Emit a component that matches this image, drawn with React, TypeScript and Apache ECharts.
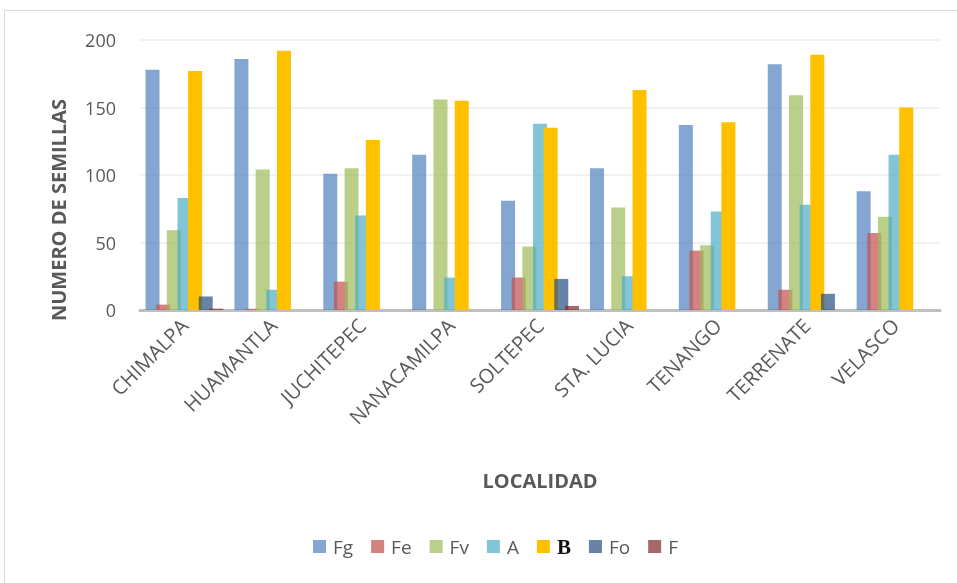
import React, { useEffect, useRef } from "react";
import * as echarts from "echarts";

const categories = ["CHIMALPA", "HUAMANTLA", "JUCHITEPEC", "NANACAMILPA", "SOLTEPEC", "STA. LUCIA", "TENANGO", "TERRENATE", "VELASCO"];
const seriesNames = ["Fg", "Fe", "Fv", "A", "B", "Fo", "F"];
const Fg = [178, 186, 101, 115, 81, 105, 137, 182, 88];
const Fe = [4, 1, 21, 0, 24, 0, 44, 15, 57];
const Fv = [59, 104, 105, 156, 47, 76, 48, 159, 69];
const A = [83, 15, 70, 24, 138, 25, 73, 78, 115];
const B = [177, 192, 126, 155, 135, 163, 139, 189, 150];
const Fo = [10, 0, 0, 0, 23, 0, 0, 12, 0];
const F = [1, 0, 0, 0, 3, 0, 0, 0, 0];
const seriesData = [Fg, Fe, Fv, A, B, Fo, F];
const seriesColors = [
  "rgba(79,129,189,0.7)",
  "rgba(192,80,77,0.7)",
  "rgba(155,187,89,0.7)",
  "rgba(75,172,198,0.7)",
  "#FFC000",
  "rgba(31,73,125,0.68)",
  "rgba(128,40,40,0.7)",
];
const yTicks = [0, 50, 100, 150, 200];

export default function App() {
  const ref = useRef<HTMLDivElement>(null);
  useEffect(() => {
    if (!ref.current) return;
    const chart = echarts.init(ref.current, null, { renderer: "svg" });
    const font = "'Open Sans', 'Noto Sans', sans-serif";
    chart.setOption({
      animation: false,
      textStyle: { fontFamily: font },
      grid: { left: 140, right: 17, top: 40, bottom: 273, containLabel: false },
      legend: {
        bottom: 21,
        left: 308,
        itemWidth: 13,
        itemHeight: 13,
        itemGap: 18,
        icon: "rect",
        data: seriesNames,
        textStyle: {
          color: "#595959",
          fontSize: 19,
          fontFamily: font,
          padding: [0, 0, 0, 2],
          rich: {
            b: { fontFamily: "'Liberation Serif', serif", fontWeight: "bold", fontSize: 21, color: "#111" },
          },
        },
        formatter: (name: string) => (name === "B" ? "{b|B}" : name),
      },
      xAxis: {
        type: "category",
        data: categories,
        axisLine: { lineStyle: { color: "#bfbfbf", width: 3 } },
        axisTick: { show: false },
        axisLabel: { rotate: 45, interval: 0, color: "#595959", fontSize: 20, margin: 12, fontFamily: font },
      },
      yAxis: {
        type: "value",
        min: yTicks[0],
        max: yTicks[yTicks.length - 1],
        interval: 50,
        axisLine: { show: false },
        axisTick: { show: false },
        splitLine: { lineStyle: { color: "#ececec", width: 1.5 } },
        axisLabel: { color: "#595959", fontSize: 18, margin: 24, fontFamily: font },
      },
      graphic: [
        {
          type: "rect",
          shape: { x: 4.5, y: 10.5, width: 1000, height: 600 },
          style: { fill: "none", stroke: "#d9d9d9", lineWidth: 1 },
          silent: true,
        },
        {
          type: "text",
          x: 58,
          y: 210,
          rotation: Math.PI / 2,
          style: {
            text: "NUMERO DE SEMILLAS",
            fill: "#595959",
            font: `bold 20px ${font}`,
            textAlign: "center",
            textVerticalAlign: "middle",
          },
        },
        {
          type: "text",
          x: 540,
          y: 480,
          style: {
            text: "LOCALIDAD",
            fill: "#595959",
            font: `bold 20px ${font}`,
            textAlign: "center",
            textVerticalAlign: "middle",
          },
        },
      ],
      series: seriesNames.map((name, i) => ({
        name,
        type: "bar",
        data: seriesData[i],
        barWidth: 14,
        barGap: "-24%",
        itemStyle: { color: seriesColors[i] },
      })),
    });
    return () => chart.dispose();
  }, []);
  return <div ref={ref} style={{ position: "fixed", left: 0, top: 0, width: 957, height: 583 }} />;
}
